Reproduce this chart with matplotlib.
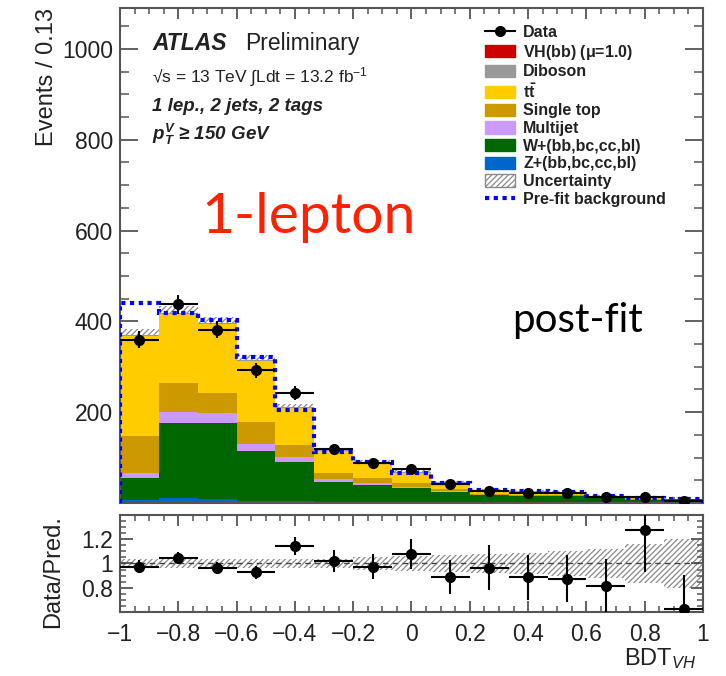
import numpy as np
import matplotlib
matplotlib.use("Agg")
import matplotlib.pyplot as plt
from matplotlib.patches import Patch
from matplotlib.lines import Line2D
from matplotlib.ticker import MultipleLocator, FixedLocator, FuncFormatter

plt.rcParams['font.family'] = ['Liberation Sans', 'DejaVu Sans']
plt.rcParams['mathtext.fontset'] = 'custom'
plt.rcParams['mathtext.rm'] = 'Liberation Sans'
plt.rcParams['mathtext.it'] = 'Liberation Sans:italic'
plt.rcParams['mathtext.bf'] = 'Liberation Sans:bold'
plt.rcParams['mathtext.bfit'] = 'Liberation Sans:italic:bold'
plt.rcParams['hatch.linewidth'] = 0.9

# BDT_VH binning: 15 bins of width 0.133
bin_edges = np.linspace(-1.0, 1.0, 16)

# Observed events per bin
data = [360, 438, 382, 292, 242, 119, 88, 74, 41, 27, 23, 21, 13, 14, 5]

# Post-fit background and signal components (stack order: bottom to top)
z_hf = [6, 10, 9, 4, 5, 3, 2, 2, 1, 1, 1, 1, 0.5, 0.5, 0.3]
w_hf = [49, 166, 167, 110, 85, 43, 38, 32, 24, 16, 15, 14, 10, 7, 5]
multijet = [11, 24, 22, 16, 11, 7, 3, 2, 1, 0.5, 0.5, 0.5, 0.3, 0.2, 0.2]
single_top = [81, 64, 44, 48, 26, 13, 12, 8, 5, 2.5, 2, 2, 1, 0.8, 0.5]
ttbar = [220, 152, 152, 134, 82, 48, 33, 22, 13, 6, 5.5, 4.5, 2.7, 1.5, 1]
diboson = [2, 2, 2, 2, 2, 2, 2, 2, 1.5, 1.5, 1.5, 1.5, 1, 0.5, 0.5]
vh_bb = [0.5, 0.5, 0.5, 0.5, 0.5, 0.5, 0.5, 0.5, 0.5, 0.5, 0.5, 0.5, 0.5, 0.5, 0.5]

# Pre-fit total background
prefit = [440, 418, 402, 321, 204, 112, 90, 66, 45, 28, 27, 25, 16, 12, 8]

# Relative total uncertainty on the prediction
rel_unc = [0.04, 0.035, 0.035, 0.035, 0.035, 0.04, 0.05, 0.06, 0.07, 0.08,
           0.09, 0.10, 0.12, 0.16, 0.20]

components = [
    ("Z+(bb,bc,cc,bl)", z_hf, "#0066cc"),
    ("W+(bb,bc,cc,bl)", w_hf, "#006600"),
    ("Multijet", multijet, "#cc99ff"),
    ("Single top", single_top, "#cc9900"),
    (r"$\mathbf{t\bar{t}}$", ttbar, "#ffcc00"),
    ("Diboson", diboson, "#999999"),
    (r"VH(bb) ($\mathbf{\mu}$=1.0)", vh_bb, "#cc0000"),
]

left = bin_edges[:-1]
widths = np.diff(bin_edges)
centers = left + widths / 2
data = np.asarray(data, dtype=float)
rel_unc = np.asarray(rel_unc)

frame_col = "#555555"
text_col = "#222222"


def tick_fmt(v, pos):
    v = round(v, 6)
    if v == 0:
        v = 0.0
    return f"{v:g}".replace("-", "\u2212")


fig = plt.figure(figsize=(7.26, 6.76), dpi=100)
ax = fig.add_axes([0.1653, 0.2559, 0.8030, 0.7322])
rax = fig.add_axes([0.1653, 0.0947, 0.8030, 0.1435])

# ---- main panel -------------------------------------------------------
bottom = np.zeros(len(left))
for name, vals, col in components:
    vals = np.asarray(vals, dtype=float)
    ax.bar(left, vals, width=widths, bottom=bottom, align='edge',
           color=col, linewidth=0, zorder=2)
    bottom = bottom + vals
total = bottom

ax.bar(left, 2 * total * rel_unc, width=widths, bottom=total * (1 - rel_unc),
       align='edge', facecolor='none', edgecolor='#8a8a8a', hatch='//////',
       linewidth=0, zorder=1.5)

ax.stairs(prefit, bin_edges, color='#0000ff', linestyle=(0, (1, 1.1)),
          linewidth=3, zorder=4)

ax.errorbar(centers, data, xerr=widths / 2, yerr=np.sqrt(data), fmt='o',
            color='black', ms=7, elinewidth=1.5, capsize=0, zorder=5)

ax.set_xlim(-1, 1)
ax.set_ylim(0, 1090)
ax.yaxis.set_major_locator(FixedLocator([200, 400, 600, 800, 1000]))
ax.yaxis.set_minor_locator(MultipleLocator(50))
ax.xaxis.set_major_locator(MultipleLocator(0.2))
ax.xaxis.set_minor_locator(MultipleLocator(0.05))
ax.tick_params(which='both', direction='in', top=True, right=True,
               labelbottom=False, color=frame_col, labelsize=16.5,
               labelcolor=text_col, pad=5)
ax.tick_params(axis='y', which='major', length=13, width=1.3)
ax.tick_params(axis='y', which='minor', length=6.5, width=1.1)
ax.tick_params(axis='x', which='major', length=8, width=1.3)
ax.tick_params(axis='x', which='minor', length=4, width=1.1)
ax.yaxis.set_major_formatter(FuncFormatter(tick_fmt))

ax.set_ylabel("Events / 0.13", fontsize=17, color=text_col, loc='top')
ax.yaxis.set_label_coords(-0.106, 1.0)

for sp in ax.spines.values():
    sp.set_color(frame_col)
    sp.set_linewidth(1.5)

# ATLAS labels
ax.text(0.055, 0.915, "ATLAS", transform=ax.transAxes, fontsize=16.5,
        fontweight='bold', fontstyle='italic', color=text_col)
ax.text(0.2144, 0.915, "Preliminary", transform=ax.transAxes, fontsize=16.5,
        color=text_col)
ax.text(0.055, 0.8505, "\u221as = 13 TeV \u222bLdt = 13.2 fb$^{-1}$",
        transform=ax.transAxes, fontsize=12.5, color=text_col)
ax.text(0.055, 0.792, "1 lep., 2 jets, 2 tags", transform=ax.transAxes,
        fontsize=13.5, fontweight='bold', fontstyle='italic', color=text_col)
ax.text(0.055, 0.733, r"$\mathbfit{p}_{\mathbfit{T}}^{\mathbfit{V}}$ " + "\u2265 150 GeV",
        transform=ax.transAxes, fontsize=13.5, fontweight='bold',
        fontstyle='italic', color=text_col)

ax.text(0.324, 0.545, "1-lepton", transform=ax.transAxes, fontsize=41,
        family=['Lato', 'DejaVu Sans'], color='#ff2200', ha='center')
ax.text(0.6724, 0.3455, "post-fit", transform=ax.transAxes, fontsize=29,
        family=['Lato', 'DejaVu Sans'], color='black')

# legend
handles = [Line2D([0], [0], color='black', marker='o', ms=7, lw=1.5)]
labels = ["Data"]
for name, vals, col in reversed(components):
    handles.append(Patch(facecolor=col, edgecolor=col))
    labels.append(name)
handles.append(Patch(facecolor='white', edgecolor='#8a8a8a', hatch='//////'))
labels.append("Uncertainty")
handles.append(Line2D([0], [0], color='#0000ff', ls=(0, (1, 1.1)), lw=3))
labels.append("Pre-fit background")
ax.legend(handles, labels, loc='upper left', bbox_to_anchor=(0.626, 0.966),
          frameon=False, prop={'size': 11.5, 'weight': 'bold'},
          labelspacing=0.17, handlelength=1.9, handleheight=0.8,
          handletextpad=0.5, borderpad=0, borderaxespad=0,
          labelcolor=text_col)

# ---- ratio panel ------------------------------------------------------
ratio = data / total
ratio_err = np.sqrt(data) / total

rax.bar(left, 2 * rel_unc, width=widths, bottom=1 - rel_unc, align='edge',
        facecolor='none', edgecolor='#8a8a8a', hatch='//////', linewidth=0,
        zorder=1)
rax.axhline(1.0, color='#444444', ls=(0, (4, 3)), lw=1.0, zorder=2)
rax.errorbar(centers, ratio, xerr=widths / 2, yerr=ratio_err, fmt='o',
             color='black', ms=7, elinewidth=1.5, capsize=0, zorder=5)

rax.set_xlim(-1, 1)
rax.set_ylim(0.6, 1.4)
rax.yaxis.set_major_locator(FixedLocator([0.8, 1.0, 1.2]))
rax.yaxis.set_minor_locator(MultipleLocator(0.05))
rax.xaxis.set_major_locator(MultipleLocator(0.2))
rax.xaxis.set_minor_locator(MultipleLocator(0.05))
rax.xaxis.set_major_formatter(FuncFormatter(tick_fmt))
rax.yaxis.set_major_formatter(FuncFormatter(tick_fmt))
rax.tick_params(which='both', direction='in', top=True, right=True,
                color=frame_col, labelsize=16.5, labelcolor=text_col)
rax.tick_params(axis='x', which='major', length=8, width=1.3, pad=8)
rax.tick_params(axis='x', which='minor', length=4, width=1.1)
rax.tick_params(axis='y', which='major', length=9, width=1.3, pad=5)
rax.tick_params(axis='y', which='minor', length=4.5, width=1.1)

rax.set_ylabel("Data/Pred.", fontsize=17, color=text_col, loc='top')
rax.yaxis.set_label_coords(-0.096, 1.0)
rax.set_xlabel(r"BDT$_{\mathit{VH}}$", fontsize=17, color=text_col, loc='right')
rax.xaxis.set_label_coords(0.988, -0.355)

for sp in rax.spines.values():
    sp.set_color(frame_col)
    sp.set_linewidth(1.5)

fig.savefig("out.png", dpi=100)
